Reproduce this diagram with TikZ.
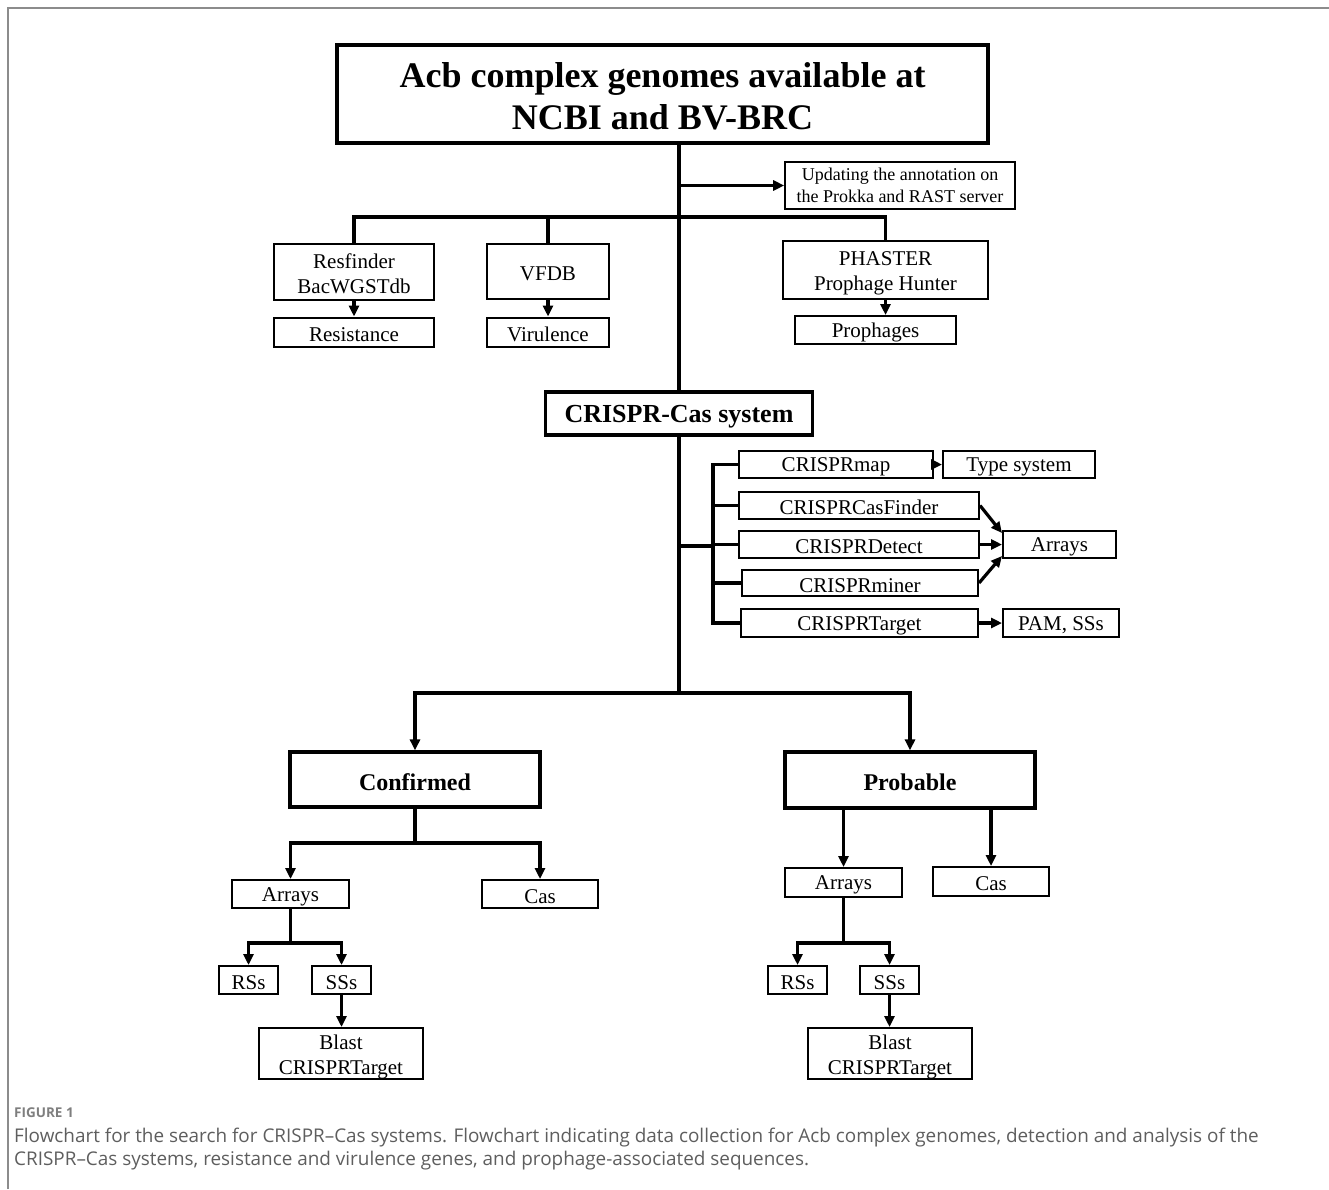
\documentclass[tikz,border=0pt]{standalone}
\usepackage{fontspec}
\setmainfont{Liberation Serif}
\newfontfamily\capfont{Open Sans}
\usetikzlibrary{arrows.meta}
\definecolor{framegray}{HTML}{8C8C8C}
\definecolor{capgray}{HTML}{5E5E5E}
\newcommand\lift[1][1em]{\rule{0pt}{#1}}
\tikzset{
  cell/.style 2 args={draw, line width=2pt, inner sep=0pt, align=center,
    minimum width=#1pt, minimum height=#2pt, font=\fontsize{21}{25}\selectfont,
    execute at begin node=\rule{0pt}{0.9em}},
  head/.style 2 args={cell={#1}{#2}, line width=3.2pt, font=\fontsize{24}{28}\selectfont\bfseries},
  link/.style={line width=3.2pt},
  arr/.style={link, -{Triangle[length=11pt,width=10pt]}}
}
\begin{document}
\begin{tikzpicture}[x=1pt, y=-1pt]
    \useasboundingbox (0,0) rectangle (1329,1189);
    \draw [framegray, line width=2.2pt] (8,1189) -- (8,8) -- (1329,8);

    % genomes and first tools
    \node [head={651}{98}, line width=3.6pt, font=\fontsize{36}{42}\selectfont\bfseries] (genomes) at (662.5,94) {\lift[0.8em]Acb complex genomes available at\\NCBI and BV-BRC};
    \node [cell={230}{47}, line width=1.6pt, font=\fontsize{18}{22}\selectfont] (annot) at (900,185.5) {Updating the annotation on\\the Prokka and RAST server};
    \node [cell={160}{56}] (resf) at (354,272) {\lift[0.85em]Resfinder\\BacWGSTdb};
    \node [cell={122}{55}] (vfdb) at (548,271.5) {VFDB};
    \node [cell={205}{58}] (phaster) at (885.5,270) {\lift PHASTER\\Prophage Hunter};
    \node [cell={160}{29}] (resist) at (354,332) {Resistance};
    \node [cell={122}{29}] (viru) at (548,332) {Virulence};
    \node [cell={161}{28}] (proph) at (875.5,330) {Prophages};
    \node [head={267}{43}, font=\fontsize{26}{30}\selectfont\bfseries] (crispr) at (679,413.5) {CRISPR-Cas system};

    \coordinate (hub) at (679,217);
    \draw [link] (crispr.north |- genomes.south) -- (crispr.north);
    \draw [arr] (crispr.north |- annot.west) -- (annot.west);
    \draw [link] (resf.north) -- (resf.north |- hub) -- (phaster.north |- hub) -- (phaster.north);
    \draw [link] (vfdb.north) -- (vfdb.north |- hub);
    \draw [arr] (resf) -- (resist);
    \draw [arr] (vfdb) -- (viru);
    \draw [arr] (phaster.south) -- (phaster.south |- proph.north);

    % CRISPR tools
    \node [cell={194}{27}] (cmap) at (836,464.5) {CRISPRmap};
    \node [cell={152}{27}] (typesys) at (1019,464.5) {Type system};
    \node [cell={240}{27}] (cfinder) at (859,505.5) {CRISPRCasFinder};
    \node [cell={240}{27}] (cdetect) at (859,544.5) {CRISPRDetect};
    \node [cell={113}{27}] (arrays) at (1059.5,544.5) {Arrays};
    \node [cell={236}{26}] (cminer) at (860,583) {CRISPRminer};
    \node [cell={237}{28}] (ctarget) at (859.5,623) {CRISPRTarget};
    \node [cell={116}{28}] (pam) at (1061,623) {PAM, SSs};

    \coordinate (fork) at (713,546);
    \coordinate (split) at (679,693);
    \draw [link] (crispr.south) -- (split);
    \draw [link] (crispr.south |- fork) -- (fork);
    \draw [link] (cmap.west) -- (cmap.west -| fork) -- (ctarget.west -| fork) -- (ctarget.west);
    \foreach \n in {cfinder,cdetect,cminer}
      \draw [link] (\n.west) -- (\n.west -| fork);
    \draw [arr] (cmap) -- (typesys);
    \draw [arr] (cfinder.east) -- ([yshift=-3pt]arrays.north west);
    \draw [arr] (cdetect) -- (arrays);
    \draw [arr] (cminer.east) -- ([yshift=3pt]arrays.south west);
    \draw [arr] (ctarget) -- (pam);

    % confirmed and probable
    \node [head={250}{55}] (conf) at (415,779.5) {Confirmed};
    \node [head={250}{56}] (prob) at (910,780) {Probable};
    \draw [arr] (split) -| (conf.north);
    \draw [arr] (split) -| (prob.north);

    \node [cell={117}{28}] (carrays) at (290.5,894) {Arrays};
    \node [cell={116}{28}] (ccas) at (540,894) {Cas};
    \node [cell={59}{28}] (crss) at (248.5,980) {RSs};
    \node [cell={59}{28}] (csss) at (341.5,980) {SSs};
    \node [cell={164}{51}] (cblast) at (341,1053.5) {\lift Blast\\CRISPRTarget};
    \coordinate (cknot) at (415,843);
    \coordinate (caknot) at (290.5,943);
    \draw [link] (conf.south) -- (cknot);
    \draw [arr] (cknot) -| (carrays.north);
    \draw [arr] (cknot) -| (ccas.north);
    \draw [link] (carrays.south) -- (caknot);
    \draw [arr] (caknot) -| (crss.north);
    \draw [arr] (caknot) -| (csss.north);
    \draw [arr] (csss.south) -- (csss.south |- cblast.north);

    \node [cell={117}{29}] (parrays) at (843.5,882.5) {Arrays};
    \node [cell={116}{29}] (pcas) at (991,881.5) {Cas};
    \node [cell={59}{28}] (prss) at (797.5,980) {RSs};
    \node [cell={59}{28}] (psss) at (889.5,980) {SSs};
    \node [cell={164}{51}] (pblast) at (890,1053.5) {\lift Blast\\CRISPRTarget};
    \coordinate (paknot) at (843.5,943);
    \draw [arr] (parrays.north |- prob.south) -- (parrays.north);
    \draw [arr] (pcas.north |- prob.south) -- (pcas.north);
    \draw [link] (parrays.south) -- (paknot);
    \draw [arr] (paknot) -| (prss.north);
    \draw [arr] (paknot) -| (psss.north);
    \draw [arr] (psss.south) -- (psss.south |- pblast.north);

    % caption
    \node [anchor=base west, inner sep=0pt, text=capgray!80, font=\capfont\bfseries\fontsize{13.5}{16}\selectfont] (figlabel) at (14,1117) {FIGURE 1};
    \node [anchor=north west, inner sep=0pt, text=capgray, align=left, font=\capfont\fontsize{18.9}{23}\selectfont] (caption) at (14,1128) {Flowchart for the search for CRISPR–Cas systems. Flowchart indicating data collection for Acb complex genomes, detection and analysis of the\\CRISPR–Cas systems, resistance and virulence genes, and prophage-associated sequences.};
\end{tikzpicture}
\end{document}
